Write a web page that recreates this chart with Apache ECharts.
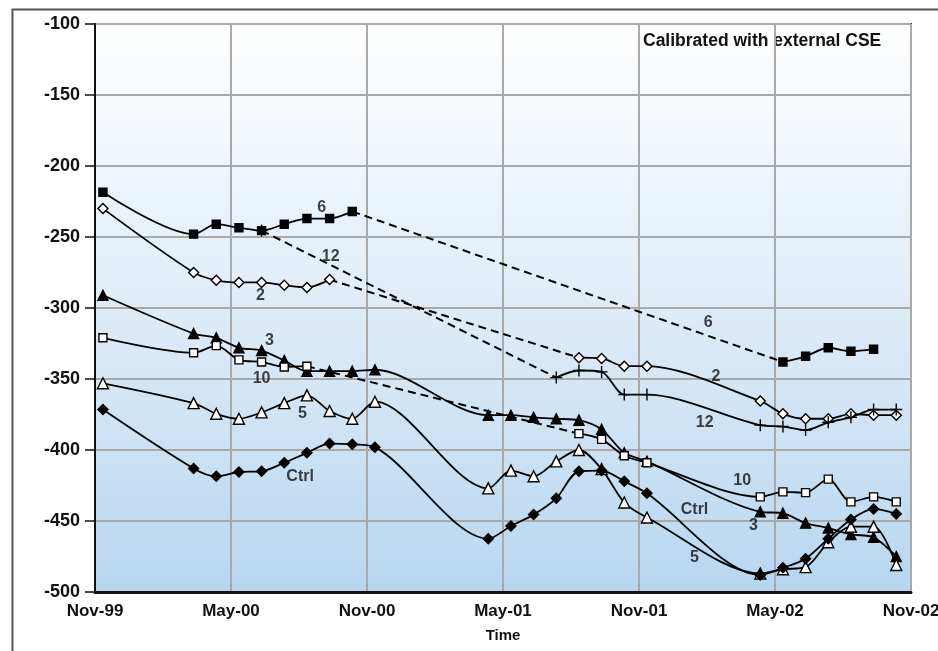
<!DOCTYPE html>
<html><head><meta charset="utf-8">
<script src="https://cdn.jsdelivr.net/npm/echarts@6/dist/echarts.min.js"></script>
<style>html,body{margin:0;padding:0;background:#fff}#c{width:938px;height:651px}</style>
</head><body><div id="c"></div>
<script>
// ---- data ----
const xTickLabels = ['Nov-99','May-00','Nov-00','May-01','Nov-01','May-02','Nov-02'];
// sampling times, in months after Nov-99
const months = [0.35, 4.35, 5.35, 6.35, 7.35, 8.35, 9.35, 10.35, 11.35, 12.35,
  17.35, 18.35, 19.35, 20.35, 21.35, 22.35, 23.35, 24.35,
  29.35, 30.35, 31.35, 32.35, 33.35, 34.35, 35.35];
const s6 = [-218.5, -248, -241, -243.5, -245.5, -241, -237, -237, -232,
  null, null, null, null, null, null, null, null, null, null,
  -338, -334, -328, -330.5, -329, null];
const s2 = [-230, -275, -280.5, -282, -282, -284, -285.5, -280,
  null, null, null, null, null, null,
  -335, -335.5, -341, -341, -365.5, -374.5, -378, -378, -374.5, -375.5, -375.5];
const s12 = [null, null, null, null, -245.5,
  null, null, null, null, null, null, null, null,
  -349, -344, -345, -361, -361, -382.5, -383.5, -386, -380.5, -377, -371.5, -371.5];
const s3 = [-291, -318, -321, -328, -330, -337, -344.5, -344.5, -344.5, -343.5,
  -375.5, -375.5, -377, -378, -379, -385.5, -402, -408,
  -443.5, -444.5, -451.5, -455, -459.5, -461.5, -475];
const s10 = [-321, -331.5, -326.5, -336.5, -338, -341.5, -341,
  null, null, null, null, null, null, null,
  -388.5, -392.5, -404, -409, -433, -429.5, -430, -420.5, -436.5, -433, -436.5];
const s5 = [-353, -367, -374.5, -378, -373.5, -367, -361.5, -372.5, -378, -366,
  -427, -414.5, -418.5, -408, -400, -413.5, -437, -447.5,
  -487, -484, -482.5, -465, -454, -454, -481];
const sCtrl = [-371.5, -413, -418.5, -415.5, -415, -409, -402, -395.5, -396, -398,
  -462.5, -453.5, -445.5, -434, -415, -414.5, -422, -430.5,
  -488, -483, -476.5, -462.5, -449, -441.5, -445];
// in-plot series labels: [text, month, value]
const labelTexts = ['6','12','2','3','10','5','Ctrl','6','2','12','10','Ctrl','3','5'];
const labelMonths = [10.0, 10.4, 7.3, 7.7, 7.35, 9.15, 9.05, 27.05, 27.4, 26.9, 28.55, 26.45, 29.05, 26.45];
const labelValues = [-229, -263.5, -291, -323, -350, -374.5, -419, -310, -348.5, -380.5, -421.5, -442, -453, -475.5];
const titleText = 'Calibrated with external CSE';

// ---- build ----
const FONT = 'Liberation Sans, Arial, sans-serif';
const CROSS = 'path://M0,6H12M6,0V12';
const defs = [
  {name:'6', vals:s6, symbol:'rect', size:8, fill:'#000'},
  {name:'2', vals:s2, symbol:'diamond', size:10, fill:'#fff'},
  {name:'12', vals:s12, symbol:CROSS, size:12, fill:'none'},
  {name:'3', vals:s3, symbol:'triangle', size:10, fill:'#000'},
  {name:'10', vals:s10, symbol:'rect', size:8, fill:'#fff'},
  {name:'5', vals:s5, symbol:'triangle', size:11, fill:'#fff'},
  {name:'Ctrl', vals:sCtrl, symbol:'diamond', size:10, fill:'#000'}
];
const series = [];
defs.forEach(d => {
  series.push({
    name: d.name, type: 'line', smooth: 0.3, connectNulls: false,
    data: months.map((m, i) => [m, d.vals[i]]),
    symbol: d.symbol, symbolSize: d.size, showSymbol: true,
    lineStyle: {color: '#000', width: 1.8},
    itemStyle: {color: d.fill, borderColor: '#000', borderWidth: 1.4},
    z: 3
  });
  // dashed bridges across interior gaps
  let last = -1;
  d.vals.forEach((v, i) => {
    if (v === null) return;
    if (last >= 0 && i - last > 1) {
      series.push({
        type: 'line', silent: true, symbol: 'none', smooth: false,
        data: [[months[last], d.vals[last]], [months[i], v]],
        lineStyle: {color: '#000', width: 2, type: [8, 5]}, z: 2
      });
    }
    last = i;
  });
});
series.push({
  type: 'scatter', symbolSize: 0, silent: true,
  data: labelTexts.map((t, i) => ({name: t, value: [labelMonths[i], labelValues[i]]})),
  label: {show: true, position: 'inside', formatter: '{b}', color: '#111',
    fontSize: 16, fontWeight: 'bold', fontFamily: FONT},
  z: 5
});

const chart = echarts.init(document.getElementById('c'));
chart.setOption({
  animation: false,
  backgroundColor: '#fff',
  grid: {left: 95, top: 24, width: 816, height: 568, show: true, containLabel: false,
    outerBoundsMode: 'none',
    borderColor: '#222', borderWidth: 2,
    backgroundColor: new echarts.graphic.LinearGradient(0, 0, 0, 1, [
      {offset: 0, color: '#ffffff'}, {offset: 0.5, color: '#dfecf8'}, {offset: 1, color: '#b8d6ef'}])},
  xAxis: {type: 'value', min: 0, max: 36, interval: 6,
    name: 'Time', nameLocation: 'middle', nameGap: 36,
    nameTextStyle: {fontSize: 15, fontWeight: 'bold', color: '#111', fontFamily: FONT},
    axisLine: {lineStyle: {color: '#111', width: 3}},
    axisTick: {show: false},
    axisLabel: {formatter: v => xTickLabels[Math.round(v / 6)], fontSize: 17, fontWeight: 'bold', color: '#111', margin: 11,
      fontFamily: FONT},
    splitLine: {show: true, lineStyle: {color: '#a9a9a9', width: 2}}},
  yAxis: {type: 'value', min: -500, max: -100, interval: 50,
    axisLine: {show: true, lineStyle: {color: '#111', width: 2}},
    axisTick: {show: true, length: 10, lineStyle: {color: '#111', width: 1.5}},
    axisLabel: {fontSize: 18, fontWeight: 'bold', color: '#111', margin: 15, fontFamily: FONT},
    splitLine: {show: true, lineStyle: {color: '#a9a9a9', width: 2}}},
  graphic: [
    {type: 'rect', left: 10, top: 7, shape: {width: 1000, height: 1000},
      style: {fill: 'none', stroke: '#555', lineWidth: 2}, silent: true, z: -10},
    {type: 'text', left: 643, top: 32,
      style: {text: titleText, fontSize: 17.5, fontWeight: 'bold', fill: '#111', fontFamily: FONT}}
  ],
  series: series
});
</script></body></html>
